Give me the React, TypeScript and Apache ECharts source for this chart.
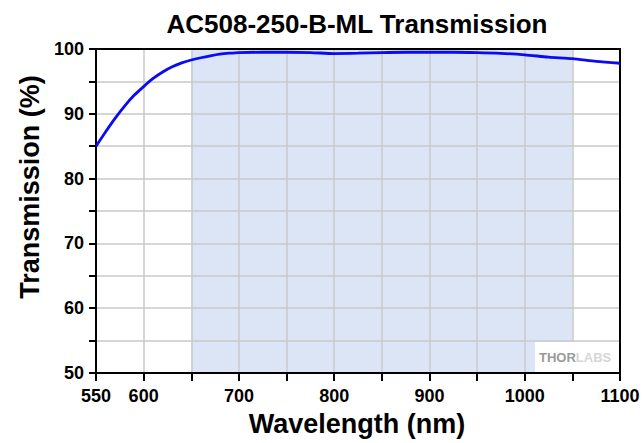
import React, { useEffect, useRef } from "react";
import * as echarts from "echarts";

const wavelengths = [
  550, 560, 570, 580, 590, 600, 610, 620, 630, 640, 650, 660, 670, 680, 690,
  700, 725, 750, 775, 800, 825, 850, 875, 900, 925, 950, 975, 1000, 1025,
  1050, 1075, 1100,
];
const transmission = [
  85.0, 87.2, 89.3, 91.2, 92.85, 94.2, 95.45, 96.45, 97.25, 97.85, 98.3, 98.65,
  98.95, 99.2, 99.35, 99.45, 99.5, 99.5, 99.45, 99.3, 99.35, 99.45, 99.5,
  99.5, 99.5, 99.45, 99.33, 99.1, 98.75, 98.5, 98.1, 97.8,
];
const xLabels = [550, 600, 700, 800, 900, 1000, 1100];
const yLabels = [50, 60, 70, 80, 90, 100];
const shadedRange = [650, 1050];

const titleText = "AC508-250-B-ML Transmission";
const xName = "Wavelength (nm)";
const yName = "Transmission (%)";

const FONT = "Liberation Sans, Arial, sans-serif";

export default function App() {
  const ref = useRef<HTMLDivElement>(null);
  useEffect(() => {
    if (!ref.current) return;
    const chart = echarts.init(ref.current, null, { renderer: "svg" });
    const points = wavelengths.map((w, i) => [w, transmission[i]]);
    const labelStyle = {
      fontFamily: FONT,
      fontWeight: "bold" as const,
      fontSize: 18,
      color: "#000",
    };
    chart.setOption({
      animation: false,
      grid: { left: 96, right: 23, top: 49, bottom: 70, containLabel: false },
      xAxis: [
        {
          type: "value",
          min: 550,
          max: 1100,
          interval: 50,
          z: 3,
          axisLine: { show: true, lineStyle: { color: "#000", width: 2 } },
          axisTick: { show: true, length: 8, lineStyle: { color: "#000", width: 2 } },
          axisLabel: {
            ...labelStyle,
            margin: 14,
            formatter: (v: number) => (xLabels.includes(v) ? String(v) : ""),
          },
          splitLine: { show: true, lineStyle: { color: "#c8c8c8", width: 1.5 } },
        },
        {
          type: "value",
          position: "top",
          min: 550,
          max: 1100,
          z: 3,
          axisLine: { show: true, lineStyle: { color: "#000", width: 2 } },
          axisTick: { show: false },
          axisLabel: { show: false },
          splitLine: { show: false },
        },
      ],
      yAxis: [
        {
          type: "value",
          min: 50,
          max: 100,
          interval: 5,
          z: 3,
          axisLine: { show: true, lineStyle: { color: "#000", width: 2 } },
          axisTick: { show: true, length: 7, lineStyle: { color: "#000", width: 2 } },
          axisLabel: {
            ...labelStyle,
            margin: 12,
            formatter: (v: number) => (yLabels.includes(v) ? String(v) : ""),
          },
          splitLine: { show: true, lineStyle: { color: "#c8c8c8", width: 1.5 } },
        },
        {
          type: "value",
          position: "right",
          min: 50,
          max: 100,
          z: 3,
          axisLine: { show: true, lineStyle: { color: "#000", width: 2 } },
          axisTick: { show: false },
          axisLabel: { show: false },
          splitLine: { show: false },
        },
      ],
      series: [
        {
          type: "line",
          data: points,
          z: 1,
          silent: true,
          showSymbol: false,
          lineStyle: { opacity: 0 },
          markArea: {
            silent: true,
            itemStyle: { color: "#dbe5f6" },
            data: [[{ xAxis: shadedRange[0] }, { xAxis: shadedRange[1] }]],
          },
        },
        {
          type: "line",
          data: points,
          z: 5,
          smooth: 0.25,
          showSymbol: false,
          lineStyle: { color: "#0a0af5", width: 2.8 },
        },
      ],
      graphic: [
        {
          type: "text",
          x: 357,
          y: 24,
          style: {
            text: titleText,
            font: `bold 26px ${FONT}`,
            fill: "#000",
            textAlign: "center",
            textVerticalAlign: "middle",
          },
        },
        {
          type: "text",
          x: 357,
          y: 424,
          style: {
            text: xName,
            font: `bold 27px ${FONT}`,
            fill: "#000",
            textAlign: "center",
            textVerticalAlign: "middle",
          },
        },
        {
          type: "text",
          x: 30,
          y: 187,
          rotation: Math.PI / 2,
          style: {
            text: yName,
            font: `bold 27px ${FONT}`,
            fill: "#000",
            textAlign: "center",
            textVerticalAlign: "middle",
          },
        },
        {
          type: "rect",
          shape: { x: 535, y: 342, width: 83, height: 30 },
          style: { fill: "#fff" },
          z: 10,
        },
        {
          type: "text",
          x: 539,
          y: 357,
          z: 11,
          style: {
            text: "{a|THOR}{b|LABS}",
            textVerticalAlign: "middle",
            rich: {
              a: { font: `bold 13px ${FONT}`, fill: "#9a9a9a", color: "#9a9a9a" },
              b: { font: `bold 13px ${FONT}`, fill: "#d6d6d6", color: "#d6d6d6" },
            },
          },
        },
      ],
    });
    return () => chart.dispose();
  }, []);
  return (
    <div
      ref={ref}
      style={{ position: "absolute", left: 0, top: 0, width: 643, height: 443 }}
    />
  );
}
